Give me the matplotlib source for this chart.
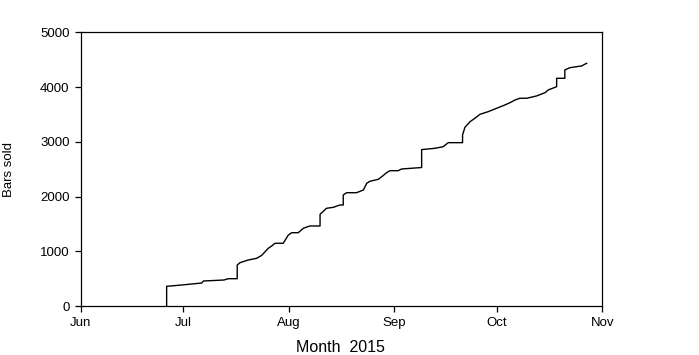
import pandas as pd
import matplotlib
matplotlib.use("Agg")
import matplotlib.pyplot as plt
import matplotlib.dates as mdates

# cumulative bars sold (days counted from 1 Jun 2015)
days_since_jun1 = [
    25.2, 25.2, 28.6, 35.5, 36.0, 42.0, 43.3, 45.9, 45.9, 46.7,
    49.1, 51.6, 53.1, 55.0, 56.0, 57.0, 59.4, 60.9, 61.9, 63.8,
    65.3, 67.2, 70.2, 70.2, 72.1, 74.1, 76.0, 77.0, 77.0, 78.0,
    80.9, 82.9, 83.9, 84.8, 87.3, 88.3, 89.7, 90.7, 93.1, 94.1,
    100.0, 100.0, 103.9, 106.3, 107.8, 112.0, 112.0, 112.7, 114.2, 115.6,
    117.1, 119.5, 122.0, 124.4, 125.9, 127.4, 128.8, 130.8, 133.7, 136.2,
    137.1, 139.6, 139.6, 142.0, 142.0, 143.5, 146.9, 148.4,
]
bars_sold = [
    0, 360, 378, 420, 457, 475, 499, 499, 749, 791,
    840, 871, 926, 1054, 1096, 1146, 1146, 1297, 1339, 1339,
    1420, 1462, 1462, 1675, 1785, 1803, 1845, 1845, 2028, 2070,
    2070, 2119, 2242, 2278, 2315, 2362, 2435, 2472, 2472, 2503,
    2530, 2857, 2881, 2910, 2984, 2984, 3124, 3265, 3367, 3429,
    3502, 3550, 3612, 3672, 3714, 3764, 3795, 3795, 3837, 3897,
    3946, 4007, 4160, 4160, 4312, 4354, 4385, 4434,
]
month_ticks = ["2015-06-01", "2015-07-01", "2015-08-01", "2015-09-01", "2015-10-01", "2015-11-01"]
y_ticks = [0, 1000, 2000, 3000, 4000, 5000]

start = pd.Timestamp("2015-06-01")
dates = start + pd.to_timedelta(days_since_jun1, unit="D")
ticks = pd.to_datetime(month_ticks)

plt.rcParams["font.family"] = ["Liberation Sans", "DejaVu Sans"]

fig = plt.figure(figsize=(6.99, 3.55), dpi=100)
ax = fig.add_axes([0.1155, 0.138, 0.7462, 0.771])

ax.plot(dates, bars_sold, color="black", linewidth=1.0)

ax.set_xlim(ticks[0], ticks[-1])
ax.set_ylim(0, 5000)
ax.set_xticks(ticks)
ax.xaxis.set_major_formatter(mdates.DateFormatter("%b"))
ax.set_yticks(y_ticks)

ax.tick_params(axis="both", direction="out", length=4, width=0.9,
               labelsize=9.5, top=False, right=False)
ax.tick_params(axis="x", pad=4)
ax.tick_params(axis="y", pad=4)
for s in ax.spines.values():
    s.set_linewidth(0.9)

ax.set_xlabel("Month  2015", fontsize=11.5)
ax.set_ylabel("Bars sold", fontsize=9.5)
ax.xaxis.set_label_coords(0.497, -0.125)
ax.yaxis.set_label_coords(-0.126, 0.5)

fig.savefig("out.png", dpi=100)
plt.close(fig)
